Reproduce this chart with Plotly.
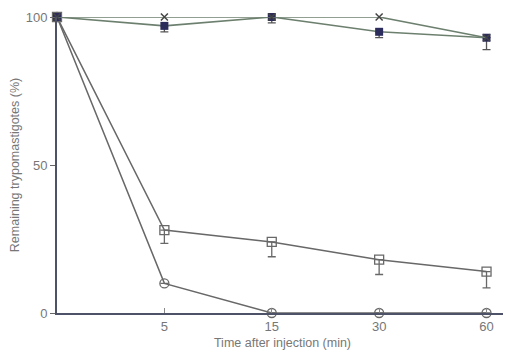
import plotly.graph_objects as go

times = ["0", "5", "15", "30", "60"]
tick_labels = ["5", "15", "30", "60"]

cross_vals = [100, 100, 100, 100, 93]
filled_sq_vals = [100, 97, 100, 95, 93]
filled_sq_err = [0, 2, 2, 2, 4]
open_sq_vals = [100, 28, 24, 18, 14]
open_sq_err = [0, 4.5, 5, 5, 5.5]
open_circ_vals = [100, 10, 0, 0, 0]
open_circ_err = [0, 0, 1.5, 2, 1]

green_line = "#6d806f"
gray_line = "#686868"
navy = "#2c2c5c"

fig = go.Figure()

def err(arr, color):
    return dict(type="data", symmetric=False, array=[0] * len(arr), arrayminus=arr,
                color=color, thickness=1.3, width=4)

fig.add_trace(go.Scatter(x=times, y=open_circ_vals, mode="lines+markers",
                         line=dict(color=gray_line, width=1.5),
                         marker=dict(symbol="circle-open", size=9, color=gray_line, line=dict(width=1.3)),
                         error_y=err(open_circ_err, gray_line), cliponaxis=False))
fig.add_trace(go.Scatter(x=times, y=open_sq_vals, mode="lines+markers",
                         line=dict(color=gray_line, width=1.5),
                         marker=dict(symbol="square-open", size=9, color=gray_line, line=dict(width=1.3)),
                         error_y=err(open_sq_err, gray_line), cliponaxis=False))
fig.add_trace(go.Scatter(x=times, y=filled_sq_vals, mode="lines+markers",
                         line=dict(color=green_line, width=1.6),
                         marker=dict(symbol="square", size=8, color=navy),
                         error_y=err(filled_sq_err, "#555"), cliponaxis=False))
fig.add_trace(go.Scatter(x=times, y=cross_vals, mode="lines+markers",
                         line=dict(color=green_line, width=1.6),
                         marker=dict(symbol="x-thin-open", size=7, color="#444", line=dict(width=1.5)),
                         cliponaxis=False))

fig.update_layout(
    width=511, height=354,
    margin=dict(l=49, r=11, t=9, b=49),
    paper_bgcolor="white", plot_bgcolor="white",
    showlegend=False,
    font=dict(family="Liberation Sans, Arial, sans-serif", color="#777", size=12),
    xaxis=dict(type="category", categoryorder="array", categoryarray=times,
               range=[0, 4.2], tickmode="array", tickvals=tick_labels, ticktext=tick_labels,
               ticks="inside", ticklen=5, tickcolor="#888", showgrid=False, zeroline=False,
               showline=True, linecolor="#4e5268", linewidth=2, automargin=False,
               title=dict(text="Time after injection (min)", standoff=6, font=dict(size=12.5, color="#777")),
               tickfont=dict(size=13, color="#777")),
    yaxis=dict(range=[0, 100], tickvals=[0, 50, 100], ticks="outside", ticklen=5,
               tickcolor="#666", showgrid=False, zeroline=False,
               showline=True, linecolor="#4e5268", linewidth=2, automargin=False,
               title=dict(text="Remaining trypomastigotes (%)", standoff=7, font=dict(size=12.5, color="#777")),
               tickfont=dict(size=13, color="#777")),
)

fig.write_html("out.html")
